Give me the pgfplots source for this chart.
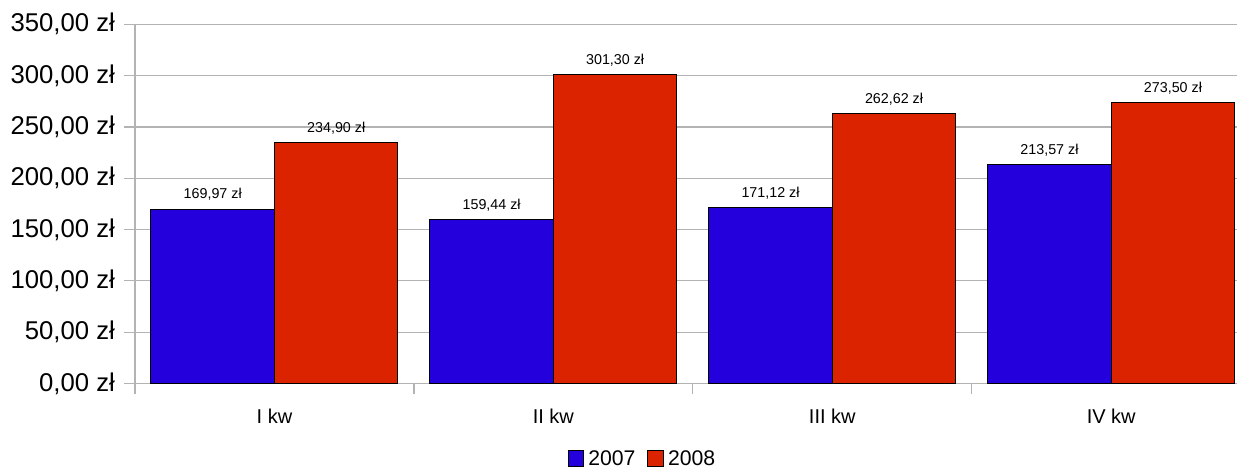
\documentclass[border=0pt]{standalone}
\usepackage{fontspec}
\setmainfont{Liberation Sans}
\usepackage{pgfplots}
\pgfplotsset{compat=1.18}

\definecolor{bar07}{RGB}{35,0,220}
\definecolor{bar08}{RGB}{220,35,0}
\definecolor{gridgray}{RGB}{179,179,179}

% quarterly values, 2007 and 2008
\pgfplotstableread{
x  y07     y08
0  169.97  234.90
1  159.44  301.30
2  171.12  262.62
3  213.57  273.50
}\quarters

\begin{document}
\begin{tikzpicture}
\begin{axis}[
    name=main,
    scale only axis,
    width=551pt, height=179.55pt,
    ybar=0pt, bar width=0.4428,
    xmin=-0.5, xmax=3.451,
    ymin=0, ymax=350,
    ytick={0,50,...,350},
    xtick={-0.5,0.5,1.5,2.5},
    xticklabels={},
    extra x ticks={0,1,2,3},
    extra x tick labels={I kw,II kw,III kw,IV kw},
    extra x tick style={major tick length=0pt},
    axis x line*=bottom, axis y line*=left,
    axis line style={gridgray, line width=0.6pt, -},
    ymajorgrids,
    major grid style={gridgray, line width=0.6pt},
    tick style={gridgray, line width=0.6pt},
    tick align=outside,
    major tick length=5.5pt,
    /pgf/number format/fixed,
    /pgf/number format/fixed zerofill,
    /pgf/number format/precision=2,
    /pgf/number format/use comma,
    /pgf/number format/1000 sep={},
    /pgf/number format/assume math mode=true,
    yticklabel={\pgfmathprintnumber{\tick} zł},
    yticklabel style={font=\fontsize{12.85}{14}\selectfont, black, xshift=-1pt},
    xticklabel style={font=\fontsize{10}{12}\selectfont, black, yshift=-9.5pt},
    nodes near coords={\pgfmathprintnumber{\pgfplotspointmeta} zł},
    nodes near coords style={font=\fontsize{7.15}{8}\selectfont, black, yshift=0.6pt},
    legend style={at={(0.4614,-0.212)}, anchor=center, draw=none, fill=none,
        legend columns=-1, font=\fontsize{10.6}{12}\selectfont,
        /tikz/every even column/.append style={column sep=4pt}},
    legend image code/.code={\draw[#1, draw=black, line width=0.5pt] (0pt,-3.4pt) rectangle (7.8pt,4.4pt);},
]
\addplot[fill=bar07, draw=black, line width=0.5pt] table[x=x, y=y07] {\quarters};
\addlegendentry{2007}
\addplot[fill=bar08, draw=black, line width=0.5pt] table[x=x, y=y08] {\quarters};
\addlegendentry{2008}
\end{axis}
\pgfresetboundingbox
\path[use as bounding box] ([xshift=-67.5pt, yshift=-43.8pt]main.south west) rectangle ([yshift=12.15pt]main.north east);
\end{tikzpicture}
\end{document}
